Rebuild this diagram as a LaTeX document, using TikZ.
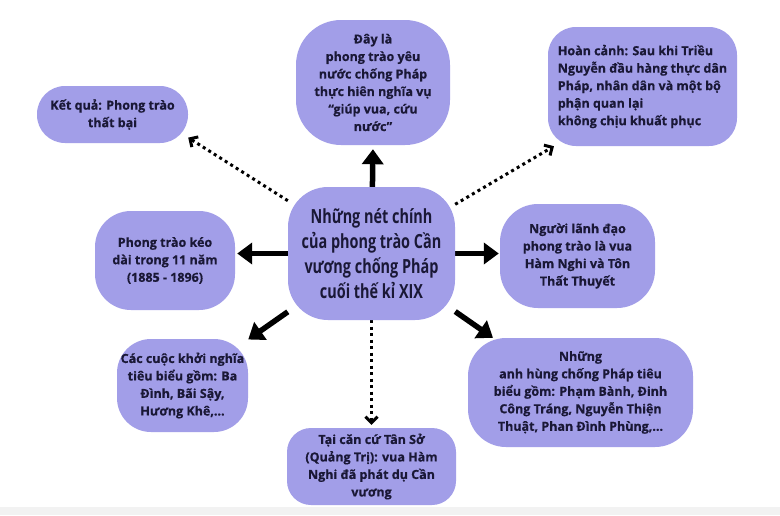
\documentclass[tikz,border=0pt]{standalone}
\usepackage{fontspec}
\setmainfont{Open Sans}[BoldFeatures={FakeBold=0.6}]
\newfontfamily\headfont[FakeStretch=0.74]{Open Sans}
\usepackage{tikz}
\usetikzlibrary{arrows.meta,backgrounds}
\definecolor{boxfill}{HTML}{A29EE8}
\definecolor{boxtext}{HTML}{1A1836}

\begin{document}
\begin{tikzpicture}[x=1pt,y=-1pt,
    box/.style={fill=boxfill, text=boxtext, rounded corners=28pt, align=center, inner sep=0pt,
        font=\bfseries\fontsize{12.5}{17.5}\selectfont},
    solidarrow/.style={line width=5.5pt, -{Triangle[length=15pt,width=21pt]}},
    dotarrow/.style={line width=3pt, dash pattern=on 3pt off 3.5pt,
        -{Straight Barb[length=6pt,width=12pt]}}]
    % Fix the page size
    \useasboundingbox (0,0) rectangle (780,515);

    % Draw the main node
    \node[box, rounded corners=40pt, minimum width=167pt, minimum height=133pt,
        font=\headfont\bfseries\fontsize{19.5}{25}\selectfont] (main) at (371.5,253.5)
        {Những nét chính\\ của phong trào Cần\\ vương chống Pháp\\ cuối thế kỉ XIX};

    % Draw the nodes around it
    \node[box, rounded corners=45pt, minimum width=154pt, minimum height=125pt] (purpose) at (373,82.5)
        {Đây là\\ phong trào yêu\\ nước chống Pháp\\ thực hiên nghĩa vụ\\ “giúp vua, cứu\\ nước"};
    \node[box, align=left, minimum width=189pt, minimum height=119pt] (context) at (642.5,86.5)
        {Hoàn cảnh: Sau khi Triều\\ Nguyễn đầu hàng thực dân\\ Pháp, nhân dân và một bộ\\ phận quan lại\\ không chịu khuất phục};
    \node[box, minimum width=151pt, minimum height=57pt] (result) at (112.5,114.5)
        {Kết quả: Phong trào\\ thất bại};
    \node[box, rounded corners=36pt, minimum width=140pt, minimum height=99pt] (duration) at (165,260.5)
        {Phong trào kéo\\ dài trong 11 năm\\ (1885 - 1896)};
    \node[box, rounded corners=38pt, minimum width=155pt, minimum height=104pt] (leader) at (577.5,256)
        {Người lãnh đạo\\ phong trào là vua\\ Hàm Nghi và Tôn\\ Thất Thuyết};
    \node[box, rounded corners=34pt, minimum width=131pt, minimum height=93pt] (uprising) at (182.5,385.5)
        {Các cuộc khởi nghĩa\\ tiêu biểu gồm: Ba\\ Đình, Bãi Sậy,\\ Hương Khê,...};
    \node[box, rounded corners=24pt, minimum width=169pt, minimum height=77pt] (base) at (371.5,466.5)
        {Tại căn cứ Tân Sở\\ (Quảng Trị): vua Hàm\\ Nghi đã phát dụ Cần\\ vương};
    \node[box, rounded corners=38pt, minimum width=225pt, minimum height=109pt] (heroes) at (580.5,392.5)
        {Những\\ anh hùng chống Pháp tiêu\\ biểu gồm: Phạm Bành, Đinh\\ Công Tráng, Nguyễn Thiện\\ Thuật, Phan Đình Phùng,...};

    % Add the arrows (behind the boxes)
    \begin{pgfonlayer}{background}
        \fill[white] (0,0) rectangle (780,515);
        \fill[black!5] (0,507) rectangle (780,515);
        \draw[solidarrow] (main) -- (purpose.south) [shorten >=4pt];
        \draw[solidarrow] (main) -- (main.center -| duration.east) [shorten >=2pt];
        \draw[solidarrow] (main) -- (main.center -| leader.west) [shorten >=1pt];
        \draw[solidarrow] (main) -- (uprising.35);
        \draw[solidarrow] (main) -- (heroes.148);
        \draw[dotarrow] (main) -- (result.-17);
        \draw[dotarrow] (main) -- (context.214);
        \draw[dotarrow] (main) -- (base.north) [shorten >=3pt];
    \end{pgfonlayer}
\end{tikzpicture}
\end{document}
